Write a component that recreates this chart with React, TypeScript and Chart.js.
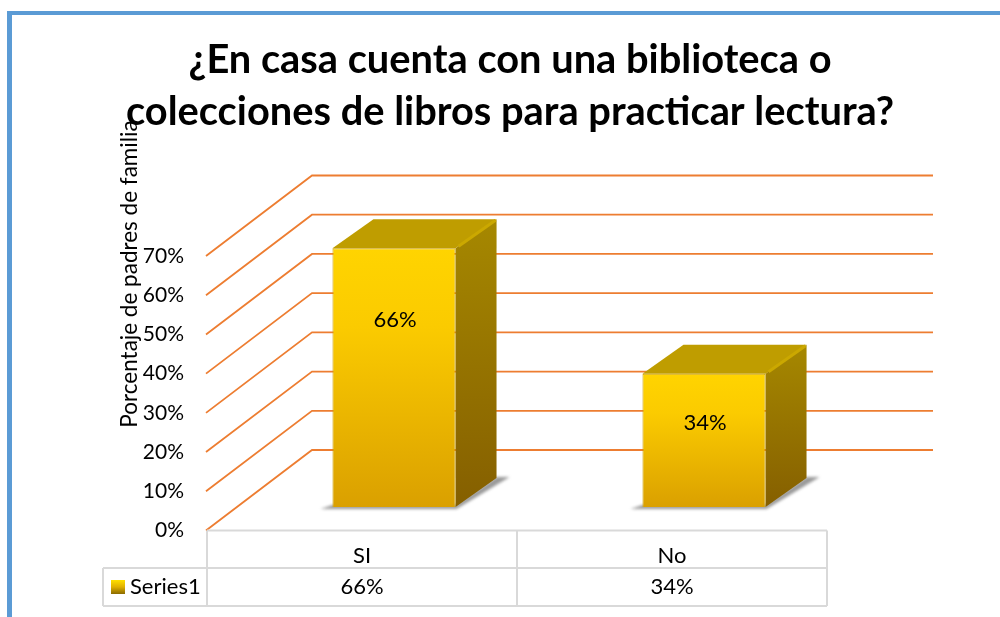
import React, { useEffect, useRef } from "react";
import { Chart, registerables } from "chart.js";

Chart.register(...registerables);

const titleLines = ["¿En casa cuenta con una biblioteca o", "colecciones de libros para practicar lectura?"];
const yAxisTitle = "Porcentaje de padres de familia";
const categories = ["SI", "No"];
const seriesName = "Series1";
const seriesValues = [66, 34];
const tickStep = 10;
const yMax = 70;

const FONT = "Lato, Carlito, sans-serif";
const percent = (v: number) => `${v}%`;

// 3D projection of the Excel-like chart, in pixels
const WALL_DX = 105;
const WALL_DY = -80.5;
const WALL_RIGHT = 933;
const BAR_DX = 32;
const BAR_DY = -23.5;
const DEPTH_X = 41;
const DEPTH_Y = -29;

const depthChart = {
  id: "depthChart",
  beforeDatasetsDraw(chart: any) {
    const { ctx, chartArea: a, scales } = chart;
    const y = scales.y;
    ctx.save();
    // walls: one line per tick of the y scale
    ctx.strokeStyle = "#ED7D31";
    ctx.lineWidth = 1.8;
    y.ticks.forEach((t: any) => {
      const py = y.getPixelForValue(t.value);
      ctx.beginPath();
      ctx.moveTo(a.left - 1, py);
      ctx.lineTo(a.left + WALL_DX, py + WALL_DY);
      ctx.lineTo(WALL_RIGHT, py + WALL_DY);
      ctx.stroke();
    });
    // shadows, side and top faces of each bar
    chart.getDatasetMeta(0).data.forEach((el: any) => {
      const l = el.x - el.width / 2 + BAR_DX;
      const r = el.x + el.width / 2 + BAR_DX;
      const top = el.y + BAR_DY;
      const base = el.base + BAR_DY;

      ctx.save();
      ctx.filter = "blur(1.5px)";
      ctx.fillStyle = "rgba(70,70,70,0.55)";
      ctx.beginPath();
      ctx.moveTo(l - 12, base + 2);
      ctx.lineTo(r + 1, base + 2);
      ctx.lineTo(r + DEPTH_X + 13, base + DEPTH_Y - 1);
      ctx.lineTo(r + DEPTH_X, base + DEPTH_Y - 1);
      ctx.lineTo(r, base - 2);
      ctx.lineTo(l, base - 2);
      ctx.closePath();
      ctx.fill();
      ctx.restore();

      const side = ctx.createLinearGradient(0, top + DEPTH_Y, 0, base);
      side.addColorStop(0, "#A68800");
      side.addColorStop(1, "#855F00");
      ctx.fillStyle = side;
      ctx.beginPath();
      ctx.moveTo(r, top);
      ctx.lineTo(r + DEPTH_X, top + DEPTH_Y);
      ctx.lineTo(r + DEPTH_X, base + DEPTH_Y);
      ctx.lineTo(r, base);
      ctx.closePath();
      ctx.fill();

      ctx.fillStyle = "#BF9D00";
      ctx.beginPath();
      ctx.moveTo(l, top);
      ctx.lineTo(l + DEPTH_X, top + DEPTH_Y);
      ctx.lineTo(r + DEPTH_X, top + DEPTH_Y);
      ctx.lineTo(r, top);
      ctx.closePath();
      ctx.fill();

      // bevel highlight along the right edge of the top face
      ctx.strokeStyle = "#CBA800";
      ctx.lineWidth = 3;
      ctx.beginPath();
      ctx.moveTo(r + 3, top - 2);
      ctx.lineTo(r + DEPTH_X - 1, top + DEPTH_Y + 1);
      ctx.stroke();
    });
    ctx.restore();
    // the front faces are the chart's own bars, moved onto the floor
    ctx.save();
    ctx.translate(BAR_DX, BAR_DY);
  },
  afterDatasetsDraw(chart: any) {
    const { ctx, chartArea: a, scales } = chart;
    ctx.restore();
    const meta = chart.getDatasetMeta(0);
    const x = scales.x;
    const y = scales.y;

    ctx.save();
    ctx.fillStyle = "#000";
    ctx.font = `22px ${FONT}`;
    ctx.textAlign = "center";
    ctx.textBaseline = "middle";
    // bar labels
    meta.data.forEach((el: any, i: number) => {
      ctx.fillText(percent(seriesValues[i]), el.x + BAR_DX + 1, y.getPixelForValue(seriesValues[i] * 0.82) + 2);
    });

    // data table
    const tableTop = a.bottom;
    const rowMid = tableTop + 37.5;
    const rowBottom = tableTop + 75.5;
    const half = (x.getPixelForValue(1) - x.getPixelForValue(0)) / 2;
    const keyLeft = 103;
    ctx.strokeStyle = "#D9D9D9";
    ctx.lineWidth = 2;
    ctx.beginPath();
    ctx.moveTo(a.left, tableTop);
    ctx.lineTo(a.right, tableTop);
    ctx.moveTo(keyLeft, rowMid);
    ctx.lineTo(a.right, rowMid);
    ctx.moveTo(keyLeft, rowBottom);
    ctx.lineTo(a.right, rowBottom);
    ctx.moveTo(keyLeft, rowMid);
    ctx.lineTo(keyLeft, rowBottom);
    ctx.moveTo(a.left, tableTop);
    ctx.lineTo(a.left, rowBottom);
    categories.forEach((_, i) => {
      const right = x.getPixelForValue(i) + half;
      ctx.moveTo(right, tableTop);
      ctx.lineTo(right, rowBottom);
    });
    ctx.stroke();

    const textY = rowMid + 19;
    categories.forEach((_, i) => {
      ctx.fillText(percent(seriesValues[i]), x.getPixelForValue(i), textY);
    });

    // legend key
    const sw = ctx.createLinearGradient(0, textY - 7, 0, textY + 7);
    sw.addColorStop(0, "#FFE000");
    sw.addColorStop(0.5, "#E0B000");
    sw.addColorStop(1, "#8A6A00");
    ctx.fillStyle = sw;
    ctx.fillRect(keyLeft + 8, textY - 7, 14, 14);
    ctx.fillStyle = "#000";
    ctx.textAlign = "left";
    ctx.fillText(seriesName, keyLeft + 27, textY);

    // axis title, placed off-centre as in the source
    ctx.font = `22.5px ${FONT}`;
    ctx.translate(130, 274);
    ctx.rotate(-Math.PI / 2);
    ctx.textAlign = "center";
    ctx.fillText(yAxisTitle, 0, 0);
    ctx.restore();
  },
};

export default function App() {
  const ref = useRef<HTMLCanvasElement>(null);
  useEffect(() => {
    const chart = new Chart(ref.current!, {
      type: "bar",
      plugins: [depthChart],
      data: {
        labels: categories,
        datasets: [
          {
            label: seriesName,
            data: seriesValues,
            clip: false,
            barPercentage: 0.397,
            categoryPercentage: 1,
            borderColor: "#CC9E00",
            borderWidth: 1,
            backgroundColor: (c: any) => {
              const ch = c.chart;
              if (!ch.chartArea || c.parsed === undefined) return "#FFD000";
              const y = ch.scales.y;
              const g = ch.ctx.createLinearGradient(0, y.getPixelForValue(c.parsed.y), 0, y.getPixelForValue(0));
              g.addColorStop(0, "#FFD400");
              g.addColorStop(0.3, "#FBCB00");
              g.addColorStop(1, "#DAA000");
              return g;
            },
          },
        ],
      },
      options: {
        animation: false,
        responsive: false,
        layout: { padding: { left: 20, right: 0, top: 0, bottom: 0 } },
        plugins: {
          legend: { display: false },
          tooltip: { enabled: false },
          title: {
            display: true,
            text: titleLines,
            color: "#000",
            font: { family: FONT, size: 39.8, weight: "bold", lineHeight: 52 / 39.8 },
            padding: { top: 34, bottom: 118 },
          },
        },
        scales: {
          x: {
            grid: { display: false, drawTicks: false },
            border: { display: false },
            ticks: { color: "#000", font: { family: FONT, size: 22 }, padding: 12 },
            afterFit: (s: any) => {
              s.height = 86.5;
            },
          },
          y: {
            min: 0,
            max: yMax,
            grid: { display: false, drawTicks: false },
            border: { display: false },
            ticks: {
              stepSize: tickStep,
              color: "#000",
              font: { family: FONT, size: 21 },
              padding: 23,
              callback: (v: any) => percent(Number(v)),
            },
            afterFit: (s: any) => {
              s.width = 187;
            },
          },
          y2: {
            position: "right",
            grid: { display: false, drawTicks: false },
            border: { display: false },
            ticks: { display: false },
            afterFit: (s: any) => {
              s.width = 173;
            },
          },
        },
      },
    } as any);
    return () => chart.destroy();
  }, []);
  return (
    <div style={{ position: "fixed", left: 0, top: 0, width: 1000, height: 617, background: "#fff", overflow: "hidden" }}>
      <div
        style={{
          position: "absolute",
          left: 7,
          top: 11,
          width: 993,
          height: 606,
          boxSizing: "border-box",
          borderLeft: "5px solid #5B9BD5",
          borderTop: "4px solid #5B9BD5",
        }}
      />
      <canvas ref={ref} width={1000} height={617} style={{ position: "absolute", left: 0, top: 0, width: 1000, height: 617 }} />
    </div>
  );
}
